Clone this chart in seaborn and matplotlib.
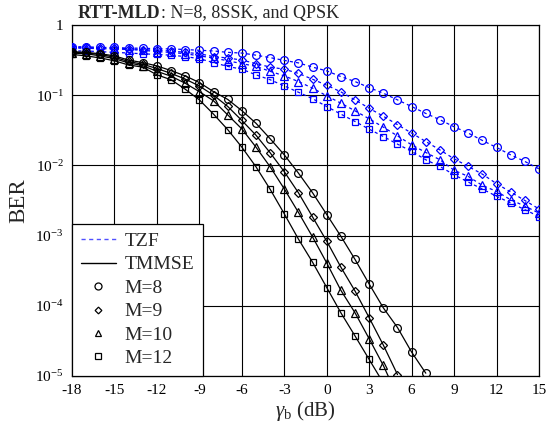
import numpy as np
import pandas as pd
import matplotlib
matplotlib.use("Agg")
import matplotlib.pyplot as plt
import seaborn as sns
from matplotlib.lines import Line2D

# SNR grid (dB)
snr_db = list(range(-18, 16))

# TZF bit error rates, log10(BER), -18 ... 15 dB
tzf_m8_log = [-0.31, -0.31, -0.32, -0.32, -0.33, -0.33, -0.34, -0.34, -0.35, -0.36,
              -0.37, -0.39, -0.40, -0.43, -0.465, -0.505, -0.54, -0.60, -0.654, -0.735,
              -0.806, -0.892, -0.972, -1.067, -1.162, -1.26, -1.35, -1.45, -1.54, -1.645,
              -1.745, -1.85, -1.944, -2.05]
tzf_m9_log = [-0.32, -0.32, -0.33, -0.33, -0.34, -0.35, -0.36, -0.37, -0.39, -0.41,
              -0.45, -0.47, -0.50, -0.55, -0.60, -0.63, -0.69, -0.773, -0.858, -0.953,
              -1.067, -1.186, -1.30, -1.42, -1.54, -1.66, -1.78, -1.906, -2.015, -2.125,
              -2.26, -2.38, -2.50, -2.62]
tzf_m10_log = [-0.33, -0.33, -0.34, -0.34, -0.35, -0.36, -0.38, -0.39, -0.41, -0.44,
               -0.47, -0.51, -0.55, -0.59, -0.66, -0.725, -0.806, -0.90, -1.01, -1.114,
               -1.223, -1.337, -1.455, -1.58, -1.707, -1.816, -1.92, -2.07, -2.157, -2.286,
               -2.37, -2.49, -2.58, -2.68]
tzf_m12_log = [-0.37, -0.37, -0.38, -0.39, -0.40, -0.41, -0.42, -0.43, -0.45, -0.48,
               -0.536, -0.59, -0.63, -0.71, -0.78, -0.868, -0.958, -1.05, -1.162, -1.27,
               -1.375, -1.484, -1.589, -1.697, -1.80, -1.92, -2.015, -2.134, -2.238, -2.337,
               -2.44, -2.536, -2.63, -2.73]

# TMMSE bit error rates, log10(BER), -18 dB upward
tmmse_m8_log = [-0.38, -0.39, -0.41, -0.44, -0.50, -0.536, -0.583, -0.65, -0.725, -0.82,
                -0.95, -1.06, -1.22, -1.40, -1.62, -1.85, -2.11, -2.39, -2.70, -3.01,
                -3.34, -3.69, -4.03, -4.31, -4.66, -4.96]
tmmse_m9_log = [-0.39, -0.40, -0.42, -0.46, -0.52, -0.56, -0.62, -0.69, -0.77, -0.87,
                -1.00, -1.16, -1.36, -1.57, -1.82, -2.09, -2.39, -2.735, -3.08, -3.45,
                -3.79, -4.17, -4.56, -4.98]
tmmse_m10_log = [-0.40, -0.41, -0.44, -0.48, -0.54, -0.58, -0.66, -0.73, -0.83, -0.95,
                 -1.08, -1.28, -1.48, -1.74, -2.02, -2.335, -2.67, -3.02, -3.39, -3.78,
                 -4.10, -4.47, -4.85, -5.29]
tmmse_m12_log = [-0.42, -0.44, -0.47, -0.51, -0.57, -0.60, -0.71, -0.78, -0.915, -1.067,
                 -1.27, -1.49, -1.74, -2.02, -2.34, -2.69, -3.05, -3.38, -3.74, -4.10,
                 -4.43, -4.765, -5.1]

antenna_counts = [8, 9, 10, 12]
markers = {8: "o", 9: "D", 10: "^", 12: "s"}
marker_sizes = {8: 5.6, 9: 3.8, 10: 5.4, 12: 5.0}

tzf_log = {8: tzf_m8_log, 9: tzf_m9_log, 10: tzf_m10_log, 12: tzf_m12_log}
tmmse_log = {8: tmmse_m8_log, 9: tmmse_m9_log, 10: tmmse_m10_log, 12: tmmse_m12_log}

rows = []
for m in antenna_counts:
    for x, v in zip(snr_db, tzf_log[m]):
        rows.append(("TZF", m, x, 10.0 ** v))
    for x, v in zip(snr_db, tmmse_log[m]):
        rows.append(("TMMSE", m, x, 10.0 ** v))
df = pd.DataFrame(rows, columns=["detector", "M", "snr", "ber"])

sns.set_theme(style="white")
plt.rcParams["font.family"] = ["Liberation Serif", "DejaVu Serif"]
plt.rcParams["mathtext.fontset"] = "custom"
plt.rcParams["mathtext.rm"] = "Liberation Serif"
plt.rcParams["mathtext.it"] = "Liberation Serif:italic"
plt.rcParams["mathtext.bf"] = "Liberation Serif:bold"

fig = plt.figure(figsize=(5.6, 4.3), dpi=100)
ax = fig.add_axes([0.1286, 0.1256, 0.8339, 0.8163])

for m in antenna_counts:
    sub = df[(df.detector == "TZF") & (df.M == m)]
    sns.lineplot(data=sub, x="snr", y="ber", ax=ax, color="#0000ff", lw=0.9,
                 linestyle=(0, (2.5, 2.5)), marker=markers[m], markersize=marker_sizes[m],
                 markerfacecolor="none", markeredgecolor="#0000ff", markeredgewidth=0.9,
                 legend=False, zorder=3)
for m in antenna_counts:
    sub = df[(df.detector == "TMMSE") & (df.M == m)]
    sns.lineplot(data=sub, x="snr", y="ber", ax=ax, color="black", lw=0.9,
                 marker=markers[m], markersize=marker_sizes[m],
                 markerfacecolor="none", markeredgecolor="black", markeredgewidth=0.9,
                 legend=False, zorder=4)

ax.set_yscale("log")
ax.set_xlim(-18, 15)
ax.set_ylim(1e-5, 1)
ax.set_xticks(range(-18, 16, 3))
ax.set_xticklabels([str(t) for t in range(-18, 16, 3)])
yt = [1e-5, 1e-4, 1e-3, 1e-2, 1e-1, 1]
ax.set_yticks(yt)
ax.set_yticklabels([r"$10^{-5}$", r"$10^{-4}$", r"$10^{-3}$", r"$10^{-2}$", r"$10^{-1}$", "1"])
ax.yaxis.set_minor_locator(matplotlib.ticker.NullLocator())
ax.tick_params(axis="both", length=0, labelsize=11, pad=6, colors="black")
ax.grid(True, which="major", color="black", lw=0.8)
for s in ax.spines.values():
    s.set_color("black")
    s.set_linewidth(0.9)

ax.set_xlabel(r"$\gamma_{\rm b}$ (dB)", fontsize=15, labelpad=1)
ax.set_ylabel("BER", fontsize=16.5, labelpad=4)

handles = [
    Line2D([], [], color="#5050ff", lw=1.0, linestyle=(0, (3, 2.5))),
    Line2D([], [], color="black", lw=1.0),
]
labels = ["TZF", "TMMSE"]
for m in antenna_counts:
    handles.append(Line2D([], [], color="black", lw=0, marker=markers[m],
                          markersize=marker_sizes[m] * 0.9, markerfacecolor="none",
                          markeredgewidth=0.9))
    labels.append(f"M={m}")
leg = ax.legend(handles, labels, loc="lower left", fontsize=14, frameon=True,
                fancybox=False, edgecolor="black", framealpha=1, borderaxespad=0,
                handlelength=1.8, handletextpad=0.45, borderpad=0.45, labelspacing=0.3)
leg.get_frame().set_linewidth(0.9)
leg.set_zorder(10)

t1 = fig.text(78 / 560, 1 - 18 / 430, "RTT-MLD", fontsize=13, fontweight="bold",
              ha="left", va="baseline")
ax.annotate(": N=8, 8SSK, and QPSK", xy=(1, 0), xycoords=t1, fontsize=13,
            ha="left", va="bottom")

fig.savefig("out.png", dpi=100)
